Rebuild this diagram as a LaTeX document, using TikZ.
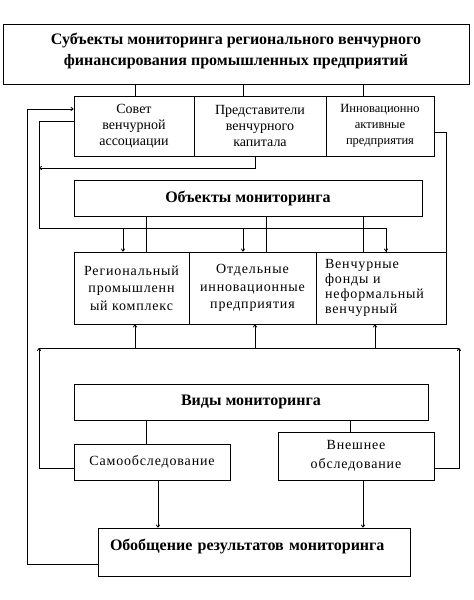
\documentclass[tikz,border=0pt]{standalone}
\usepackage{fontspec}
\setmainfont{Liberation Serif}
\newfontfamily\widefont[LetterSpace=6]{Liberation Serif}
\usetikzlibrary{arrows.meta}
\begin{document}
\begin{tikzpicture}[x=1pt,y=-1pt,
  box/.style={draw, line width=0.8pt, inner sep=1pt, align=center},
  rg/.style={font=\fontsize{14}{16}\selectfont},
  wd/.style={font=\widefont\fontsize{14}{17.5}\selectfont},
  sm/.style={font=\fontsize{12.5}{16}\selectfont},
  hd/.style={font=\bfseries\fontsize{16}{21}\selectfont},
  ln/.style={line width=0.8pt},
  arr/.style={ln, -{To[length=3pt,width=4pt]}}]
\useasboundingbox (0,0) rectangle (474,600);
% boxes
\node[box, hd, minimum width=466pt, minimum height=60pt, text depth=9pt] (top) at (236,54)
  {Субъекты мониторинга регионального венчурного\\финансирования промышленных предприятий};
\node[box, rg, minimum width=120pt, minimum height=60pt] (sovet) at (134,126) {Совет\\венчурной\\ассоциации};
\node[box, rg, minimum width=132pt, minimum height=60pt] (pred) at (260,126) {Представители\\венчурного\\капитала};
\node[box, sm, minimum width=108pt, minimum height=60pt] (innov) at (380,126) {Инновационно\\активные\\предприятия};
\node[box, hd, minimum width=348pt, minimum height=36pt] (obj) at (248,198) {Объекты мониторинга};
\node[box, wd, minimum width=115pt, minimum height=72pt] (reg) at (131.5,288) {Региональный\\промышленн\\ый комплекс};
\node[box, wd, minimum width=127pt, minimum height=72pt] (otd) at (252.5,288) {Отдельные\\инновационные\\предприятия};
\node[box, wd, font=\widefont\fontsize{14}{14.8}\selectfont, minimum width=130pt, minimum height=72pt,
  text width=112pt, inner xsep=9pt, align=left] (ven) at (381,288) {Венчурные\\фонды и\\неформальный\\венчурный};
\node[box, hd, minimum width=354pt, minimum height=36pt] (vidy) at (251,402) {Виды мониторинга};
\node[box, wd, minimum width=156pt, minimum height=36pt] (samo) at (152,462) {Самообследование};
\node[box, wd, font=\widefont\fontsize{14}{19}\selectfont, minimum width=156pt, minimum height=48pt] (vnesh) at (356,456) {Внешнее\\обследование};
\node[box, hd, minimum width=312pt, minimum height=48pt, text width=288pt, inner xsep=12pt, align=left,
  text height=8pt, text depth=12pt] (obob) at (254,552) {Обобщение результатов мониторинга};
% top to subjects
\draw[ln] (135,0 |- top.south) -- (135,0 |- sovet.north);
\draw[ln] (243,0 |- top.south) -- (243,0 |- pred.north);
\draw[ln] (363,0 |- top.south) -- (363,0 |- innov.north);
% feedback loop from results
\draw[arr] (obob.west |- 0,564) -| (27,109) -- (sovet.west |- 0,109);
% subjects to objects
\draw[ln] (sovet.west |- 0,121) -| (39,228) -| (386,0 |- ven.north);
\draw[arr] (123,228) -- (123,0 |- reg.north);
\draw[arr] (243,228) -- (243,0 |- otd.north);
\draw[arr] (386,228) -- (386,0 |- ven.north);
\draw[arr] (255,0 |- pred.south) |- (39,168);
\draw[ln] (innov.east |- 0,132) -| (ven.north east);
% objects box lines
\draw[ln] (146,0 |- obj.south) -- (146,0 |- reg.north);
\draw[ln] (266,0 |- obj.south) -- (266,0 |- otd.north);
\draw[ln] (363,0 |- obj.south) -- (363,0 |- ven.north);
% bottom bus
\draw[ln] (39,348) -- (459,348);
\draw[arr] (135,348) -- (135,0 |- reg.south);
\draw[arr] (255,348) -- (255,0 |- otd.south);
\draw[arr] (375,348) -- (375,0 |- ven.south);
\draw[arr] (samo.west |- 0,468) -| (39,348);
\draw[arr] (vnesh.east |- 0,468) -| (459,348);
% types
\draw[ln] (146,0 |- vidy.south) -- (146,0 |- samo.north);
\draw[ln] (350,0 |- vidy.south) -- (350,0 |- vnesh.north);
\draw[arr] (158,0 |- samo.south) -- (158,0 |- obob.north);
\draw[arr] (363,0 |- vnesh.south) -- (363,0 |- obob.north);
\end{tikzpicture}
\end{document}
